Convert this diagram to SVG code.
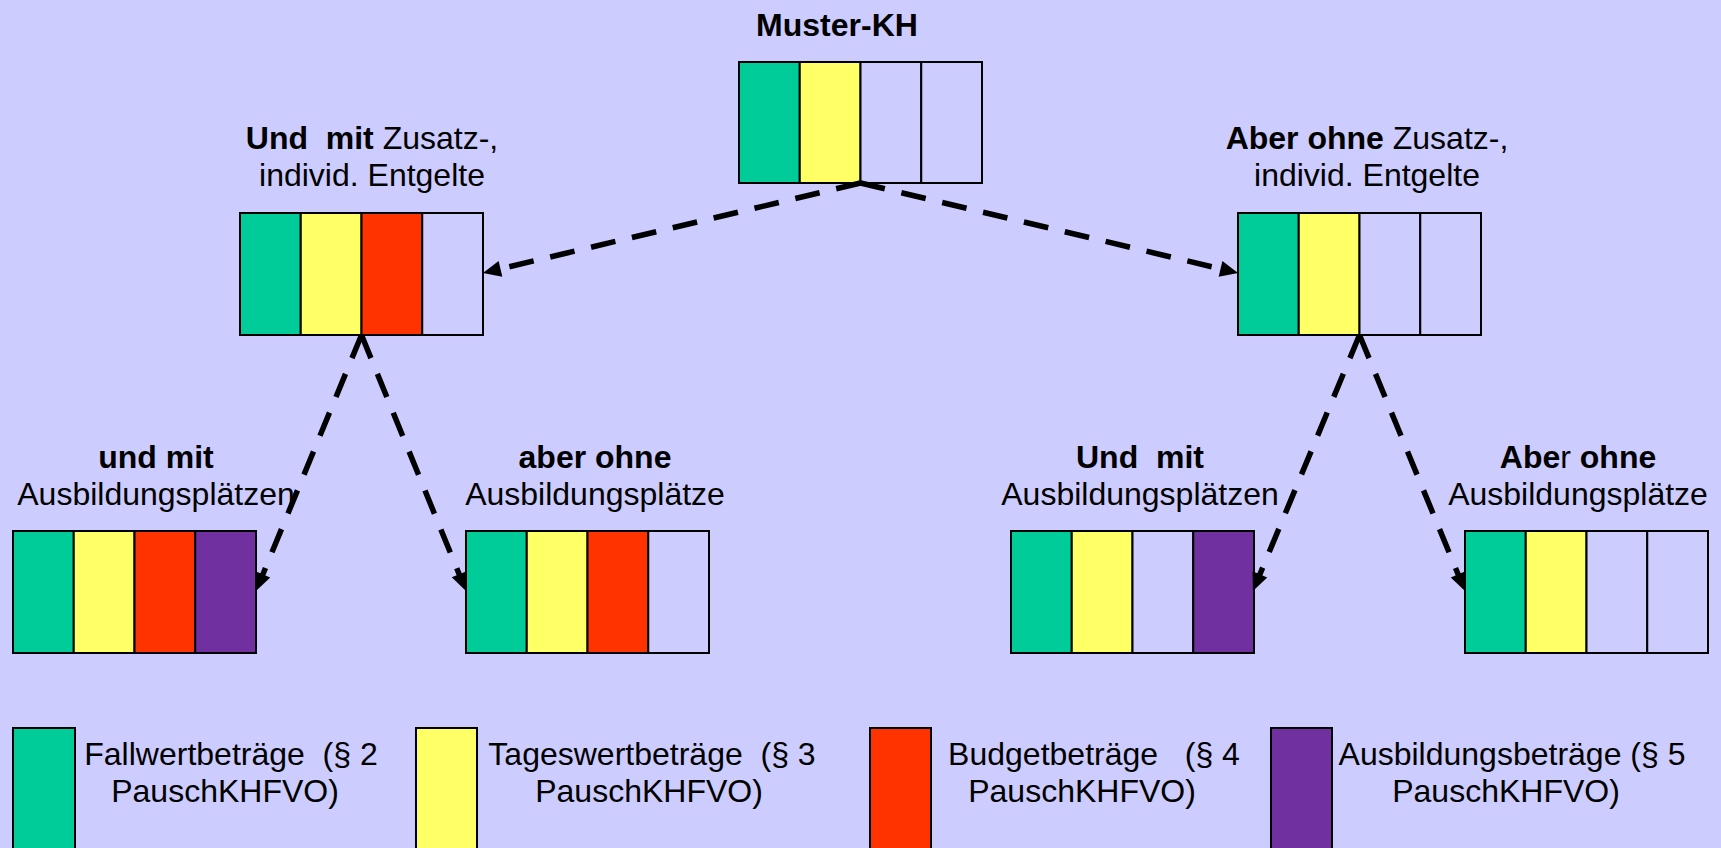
<svg xmlns="http://www.w3.org/2000/svg" width="1721" height="848" viewBox="0 0 1721 848">
<style>
text{font-family:"Liberation Sans",Arial,sans-serif;font-size:32px;fill:#000}
.b{font-weight:bold}
.c rect{stroke:#000;stroke-width:2}
.g{fill:#00CC99}.y{fill:#FFFF66}.r{fill:#FF3300}.p{fill:#7030A0}.e{fill:#CCCCFF}
.conn path{fill:none;stroke:#000;stroke-width:5.5;stroke-dasharray:25 17}
</style>
<defs>
<marker id="ah" markerUnits="userSpaceOnUse" markerWidth="18" markerHeight="16" refX="8" refY="8" orient="auto" overflow="visible">
<path d="M0,0 L18,8 L0,16 z" fill="#000"/>
</marker>
</defs>
<rect width="1721" height="848" fill="#CCCCFF"/>

<g id="muster-kh" class="c">
<text class="b" x="837" y="36" text-anchor="middle">Muster-KH</text>
<rect class="g" x="739" y="62" width="60.75" height="121"/>
<rect class="y" x="799.75" y="62" width="60.75" height="121"/>
<rect class="e" x="860.5" y="62" width="60.75" height="121"/>
<rect class="e" x="921.25" y="62" width="60.75" height="121"/>
</g>

<g id="und-mit-zusatz" class="c">
<text x="372" y="149" text-anchor="middle" xml:space="preserve"><tspan class="b">Und  mit</tspan> Zusatz-,</text>
<text x="372" y="186" text-anchor="middle">individ. Entgelte</text>
<rect class="g" x="240" y="213" width="60.75" height="122"/>
<rect class="y" x="300.75" y="213" width="60.75" height="122"/>
<rect class="r" x="361.5" y="213" width="60.75" height="122"/>
<rect class="e" x="422.25" y="213" width="60.75" height="122"/>
</g>

<g id="aber-ohne-zusatz" class="c">
<text x="1367" y="149" text-anchor="middle" xml:space="preserve"><tspan class="b">Aber ohne</tspan> Zusatz-,</text>
<text x="1367" y="186" text-anchor="middle">individ. Entgelte</text>
<rect class="g" x="1238" y="213" width="60.75" height="122"/>
<rect class="y" x="1298.75" y="213" width="60.75" height="122"/>
<rect class="e" x="1359.5" y="213" width="60.75" height="122"/>
<rect class="e" x="1420.25" y="213" width="60.75" height="122"/>
</g>

<g id="und-mit-ausbildung-1" class="c">
<text class="b" x="156" y="468" text-anchor="middle">und mit</text>
<text x="156" y="505" text-anchor="middle">Ausbildungsplätzen</text>
<rect class="g" x="13" y="531" width="60.75" height="122"/>
<rect class="y" x="73.75" y="531" width="60.75" height="122"/>
<rect class="r" x="134.5" y="531" width="60.75" height="122"/>
<rect class="p" x="195.25" y="531" width="60.75" height="122"/>
</g>

<g id="aber-ohne-ausbildung-1" class="c">
<text class="b" x="595" y="468" text-anchor="middle">aber ohne</text>
<text x="595" y="505" text-anchor="middle">Ausbildungsplätze</text>
<rect class="g" x="466" y="531" width="60.75" height="122"/>
<rect class="y" x="526.75" y="531" width="60.75" height="122"/>
<rect class="r" x="587.5" y="531" width="60.75" height="122"/>
<rect class="e" x="648.25" y="531" width="60.75" height="122"/>
</g>

<g id="und-mit-ausbildung-2" class="c">
<text class="b" x="1140" y="468" text-anchor="middle" xml:space="preserve">Und  mit</text>
<text x="1140" y="505" text-anchor="middle">Ausbildungsplätzen</text>
<rect class="g" x="1011" y="531" width="60.75" height="122"/>
<rect class="y" x="1071.75" y="531" width="60.75" height="122"/>
<rect class="e" x="1132.5" y="531" width="60.75" height="122"/>
<rect class="p" x="1193.25" y="531" width="60.75" height="122"/>
</g>

<g id="aber-ohne-ausbildung-2" class="c">
<text x="1578" y="468" text-anchor="middle"><tspan class="b">Abe</tspan>r<tspan class="b"> ohne</tspan></text>
<text x="1578" y="505" text-anchor="middle">Ausbildungsplätze</text>
<rect class="g" x="1465" y="531" width="60.75" height="122"/>
<rect class="y" x="1525.75" y="531" width="60.75" height="122"/>
<rect class="e" x="1586.5" y="531" width="60.75" height="122"/>
<rect class="e" x="1647.25" y="531" width="60.75" height="122"/>
</g>

<g id="connectors" class="conn">
<path d="M860.5,183 L492.7,270.7" marker-end="url(#ah)"/>
<path d="M860.5,183 L1228.3,270.7" marker-end="url(#ah)"/>
<path d="M361.5,335 L259.8,581.8" marker-end="url(#ah)"/>
<path d="M361.5,335 L462.2,581.7" marker-end="url(#ah)"/>
<path d="M1359.5,335 L1256.8,581.8" marker-end="url(#ah)"/>
<path d="M1359.5,335 L1461.2,581.8" marker-end="url(#ah)"/>
</g>

<g id="legend-fallwert" class="c">
<rect class="g" x="13" y="728" width="62" height="130"/>
<text x="231" y="765" text-anchor="middle" xml:space="preserve">Fallwertbeträge  (§ 2</text>
<text x="225" y="802" text-anchor="middle">PauschKHFVO)</text>
</g>
<g id="legend-tageswert" class="c">
<rect class="y" x="416" y="728" width="61" height="130"/>
<text x="652" y="765" text-anchor="middle" xml:space="preserve">Tageswertbeträge  (§ 3</text>
<text x="649" y="802" text-anchor="middle">PauschKHFVO)</text>
</g>
<g id="legend-budget" class="c">
<rect class="r" x="870" y="728" width="61" height="130"/>
<text x="1094" y="765" text-anchor="middle" xml:space="preserve">Budgetbeträge   (§ 4</text>
<text x="1082" y="802" text-anchor="middle">PauschKHFVO)</text>
</g>
<g id="legend-ausbildung" class="c">
<rect class="p" x="1271" y="728" width="61" height="130"/>
<text x="1512" y="765" text-anchor="middle">Ausbildungsbeträge (§ 5</text>
<text x="1506" y="802" text-anchor="middle">PauschKHFVO)</text>
</g>
</svg>
